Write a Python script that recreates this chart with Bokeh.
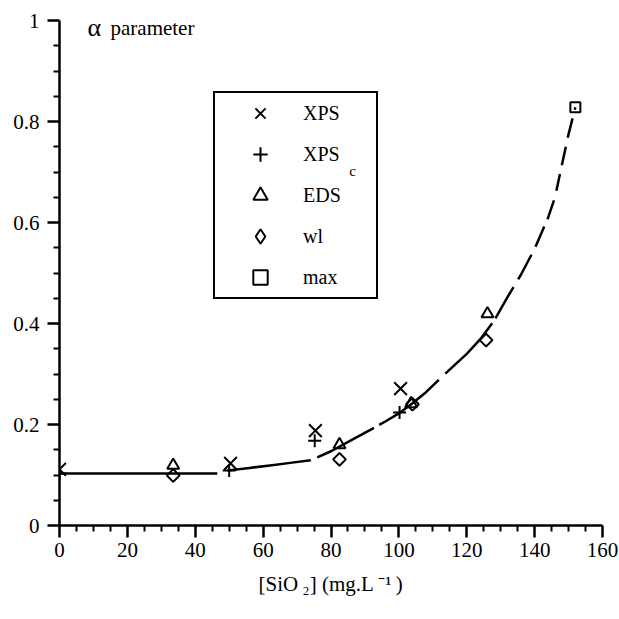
from bokeh.plotting import figure
from bokeh.models import (Range1d, FixedTicker, CustomJSTickFormatter, Legend,
                          LegendItem, Label)
from bokeh.embed import file_html
from bokeh.resources import INLINE
import math

# ---------------- data ----------------
x_ticks = [0, 20, 40, 60, 80, 100, 120, 140, 160]
x_minor_ticks = [5, 10, 15, 25, 30, 35, 45, 50, 55, 65, 70, 75, 85, 90, 95,
                 105, 110, 115, 125, 130, 135, 145, 150, 155]
y_ticks = [0, 0.2, 0.4, 0.6, 0.8, 1.0]
y_minor_ticks = [0.05, 0.1, 0.15, 0.25, 0.3, 0.35, 0.45, 0.5, 0.55, 0.65,
                 0.7, 0.75, 0.85, 0.9, 0.95]

xps_x = [0, 50.4, 75.4, 100.5]
xps_y = [0.111, 0.123, 0.188, 0.271]
xpsc_x = [0, 50, 75.2, 100.2]
xpsc_y = [0.103, 0.109, 0.168, 0.224]
eds_x = [33.5, 82.5, 103.6, 126.1]
eds_y = [0.119, 0.16, 0.241, 0.419]
wl_x = [33.5, 82.5, 104, 125.7]
wl_y = [0.099, 0.131, 0.24, 0.367]
max_x = [152]
max_y = [0.828]

flat_x = [0, 46.5]
flat_y = [0.103, 0.103]
fit_x = [49.5, 56, 62, 68, 74, 80, 86, 92, 96, 100, 104, 108, 112, 116, 120,
         124, 128, 132, 136, 140, 144, 146, 148, 150, 152]
fit_y = [0.109, 0.114, 0.119, 0.124, 0.129, 0.147, 0.169, 0.191, 0.206, 0.222,
         0.242, 0.264, 0.29, 0.315, 0.34, 0.369, 0.405, 0.452, 0.497, 0.548,
         0.61, 0.65, 0.713, 0.775, 0.828]

legend_labels = ["XPS", "XPS", "EDS", "wl", "max"]
x_title = "[SiO\u2009\u2082] (mg.L \u207b\u00b9\u2009)"

FONT = "Liberation Serif"

# ---------------- figure ----------------
p = figure(width=619, height=619, x_range=Range1d(0, 160), y_range=Range1d(0, 1),
           output_backend="svg", toolbar_location=None,
           min_border_left=59, min_border_right=17, min_border_top=20,
           min_border_bottom=94, background_fill_color="white",
           border_fill_color="white")
p.outline_line_color = None
p.xgrid.grid_line_color = None
p.ygrid.grid_line_color = None

p.xaxis.ticker = FixedTicker(ticks=x_ticks, minor_ticks=x_minor_ticks)
p.yaxis.ticker = FixedTicker(ticks=y_ticks, minor_ticks=y_minor_ticks)
p.yaxis.formatter = CustomJSTickFormatter(code="""
    return Math.abs(tick - Math.round(tick)) < 1e-9 ? String(Math.round(tick)) : tick.toFixed(1);
""")

for ax in (p.xaxis[0], p.yaxis[0]):
    ax.axis_line_width = 2.5
    ax.axis_line_color = "black"
    ax.major_tick_line_width = 2.5
    ax.major_tick_line_color = "black"
    ax.minor_tick_line_width = 2
    ax.minor_tick_line_color = "black"
    ax.major_tick_out = 12
    ax.major_tick_in = 0
    ax.minor_tick_out = 6
    ax.minor_tick_in = 0
    ax.major_label_text_font = FONT
    ax.major_label_text_font_size = "21px"
    ax.major_label_text_color = "black"
p.yaxis[0].major_label_standoff = 8
p.xaxis[0].major_label_standoff = 5

xa = p.xaxis[0]
xa.axis_label = x_title
xa.axis_label_text_font = FONT
xa.axis_label_text_font_size = "21px"
xa.axis_label_text_font_style = "normal"
xa.axis_label_text_color = "black"
xa.axis_label_standoff = 12

# ---------------- lines ----------------
p.line(flat_x, flat_y, line_color="black", line_width=2.5)
p.line(fit_x, fit_y, line_color="black", line_width=2.5, line_join="round",
       line_dash="84 7 64 6 75 9 69 6 36 9 28 9 22 8 20 10 17 9 19 9 20 9 19 9")

# ---------------- markers ----------------
common = dict(line_color="black", line_width=2, fill_color=None)
r_xps = p.scatter(xps_x, xps_y, marker="x", size=18, **common)
r_xpsc = p.scatter(xpsc_x, xpsc_y, marker="cross", size=13, **common)
r_eds = p.scatter(eds_x, eds_y, marker="triangle", size=12, **common)
r_wl = p.scatter(wl_x, wl_y, marker="square", angle=math.pi / 4, size=9, **common)
r_max = p.scatter(max_x, max_y, marker="square", size=10, **common)
# legend-only glyph for wl (legend glyphs are drawn unrotated)
r_wl_leg = p.scatter(wl_x, wl_y, marker="diamond", size=15, visible=False, **common)

renderers = [r_xps, r_xpsc, r_eds, r_wl_leg, r_max]
legend = Legend(items=[LegendItem(label=l, renderers=[r])
                       for l, r in zip(legend_labels, renderers)],
    location=(154, 226), orientation="vertical", border_line_color="black",
    border_line_width=2, border_line_alpha=1, background_fill_alpha=0,
    padding=2, spacing=5, glyph_width=86,
    glyph_height=36, label_height=36, label_width=71, label_standoff=0,
    label_text_font=FONT, label_text_font_size="20px", label_text_color="black",
    margin=0, click_policy="none")
p.add_layout(legend)

# subscript c of XPS_c in legend
p.add_layout(Label(x=293, y=355, x_units="screen", y_units="screen", text="c",
                   text_font=FONT, text_font_size="15px", text_color="black",
                   text_align="center", text_baseline="middle", level="overlay"))

# y-axis title
p.add_layout(Label(x=28, y=498, x_units="screen", y_units="screen", text="α",
                   text_font=FONT, text_font_size="26px", text_color="black",
                   text_baseline="alphabetic"))
p.add_layout(Label(x=51, y=498, x_units="screen", y_units="screen", text="parameter",
                   text_font=FONT, text_font_size="21px", text_color="black",
                   text_baseline="alphabetic"))

open("out.html", "w").write(file_html(p, INLINE))
